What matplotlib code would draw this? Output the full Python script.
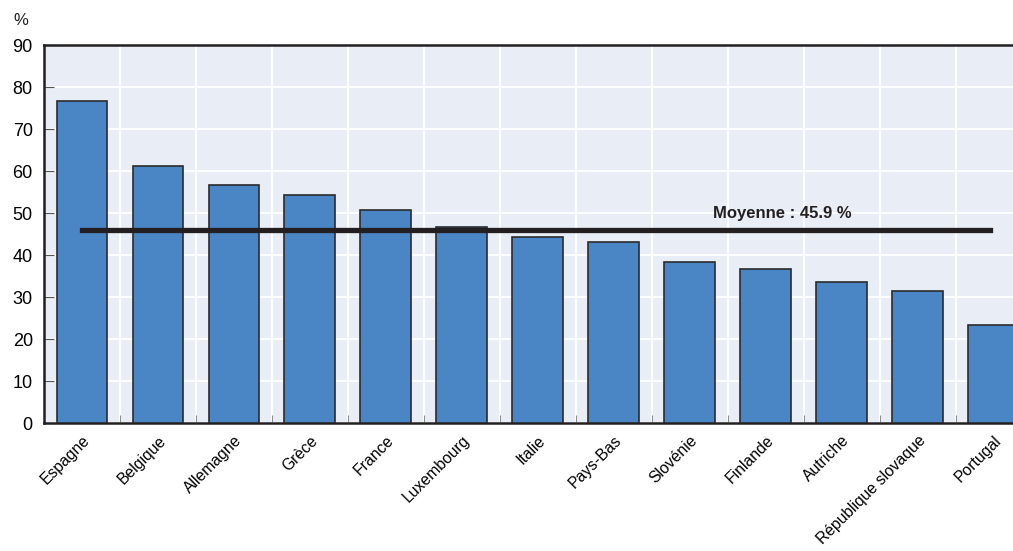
import numpy as np
import matplotlib.pyplot as plt

countries = ['Espagne', 'Belgique', 'Allemagne', 'Grèce', 'France', 'Luxembourg', 'Italie',
             'Pays-Bas', 'Slovénie', 'Finlande', 'Autriche', 'République slovaque', 'Portugal']
values = [76.7, 61.2, 56.7, 54.3, 50.7, 46.7, 44.3, 43.1, 38.3, 36.7, 33.6, 31.4, 23.3]
mean_value = 45.9

plt.rcParams['font.family'] = ['Liberation Sans Narrow', 'Liberation Sans', 'DejaVu Sans']

fig = plt.figure(figsize=(10.13, 5.51), dpi=100)
# the plot area runs past the right edge of the figure, as in the original
ax = fig.add_axes([0.0434, 0.2323, 0.9753, 0.686])
ax.set_facecolor('#e9edf6')

x = np.arange(len(countries))
ax.bar(x, values, width=0.67, color='#4a86c5', edgecolor='#2b2b2b', linewidth=1.2, zorder=3)

# average line
ax.plot([0, 11.95], [mean_value, mean_value], color='#231f20', linewidth=3.8, zorder=4)
ax.text(9.22, mean_value + 2.3, f'Moyenne : {mean_value} %', ha='center', va='bottom',
        fontsize=12, fontweight='bold', color='#231f20', zorder=5)

ax.set_xlim(-0.5, len(countries) - 0.5)
ax.set_ylim(0, 90)
ax.set_yticks(range(0, 91, 10))
ax.tick_params(axis='y', direction='in', length=7, color='#555555', labelsize=13, pad=8)

# category boundaries carry the grid and small ticks
ax.set_xticks(x[:-1] + 0.5, minor=True)
ax.set_xticks(x)
ax.set_xticklabels(countries, rotation=45, ha='right', rotation_mode='anchor', fontsize=11.3)
ax.tick_params(axis='x', which='major', length=0, pad=7)
ax.tick_params(axis='x', which='minor', direction='in', length=6, color='#777777')
ax.grid(True, which='minor', axis='x', color='white', linewidth=1.3, zorder=0)
ax.grid(True, which='major', axis='y', color='white', linewidth=1.3, zorder=0)
ax.grid(False, which='major', axis='x')

for s in ['left', 'bottom', 'top']:
    ax.spines[s].set_color('#231f20')
    ax.spines[s].set_linewidth(1.8)
ax.spines['right'].set_visible(False)

fig.text(0.0207, 0.962, '%', fontsize=12, ha='center', va='center', color='#231f20')

fig.savefig('out.png', dpi=100)
